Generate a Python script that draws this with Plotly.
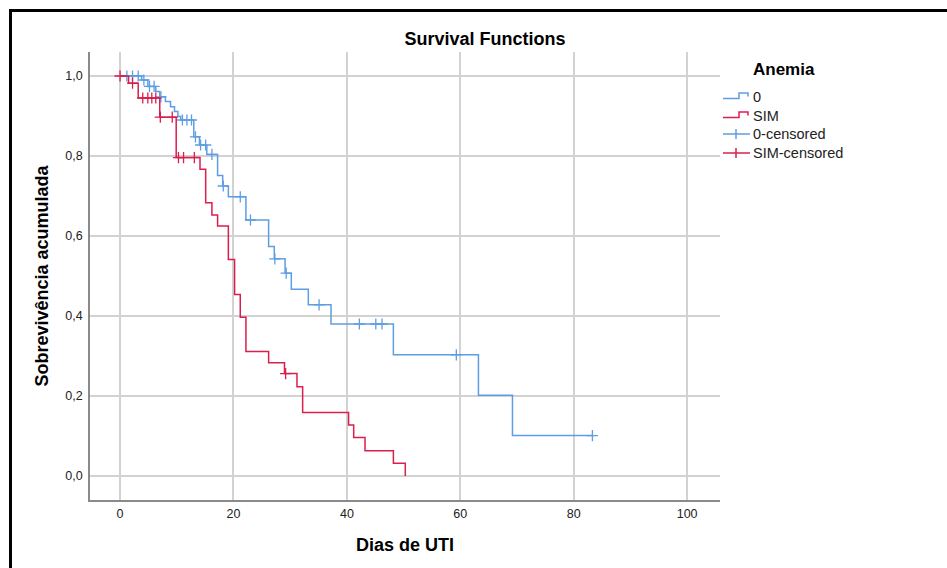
import numpy as np
import plotly.graph_objects as go

# ---------------- data ----------------
# Anemia = 0
blue_event_t = [0, 3.8, 4.9, 6.3, 7.0, 8.0, 8.9, 9.6, 10.2, 10.7, 13.0, 14.0, 15.3, 17.2, 18.1,
                19.1, 22.2, 26.2, 27.2, 29.1, 30.2, 33.2, 37.2, 48.2, 63.2, 69.2]
blue_event_s = [1.0, 0.99, 0.974, 0.961, 0.948, 0.936, 0.923, 0.911, 0.899, 0.89, 0.848, 0.8275, 0.804, 0.751, 0.725,
                0.698, 0.64, 0.574, 0.543, 0.507, 0.467, 0.428, 0.38, 0.303, 0.202, 0.101]
blue_cens_t = [1.2, 2.2, 3.2, 4.2, 5.2, 6.0, 7.2, 11.0, 11.8, 12.6, 13.3, 14.2, 15.1, 16.2, 18.2,
               21.2, 23.0, 27.3, 29.3, 35.1, 42.2, 45.1, 46.2, 59.3, 83.3]

# Anemia = SIM
red_event_t = [0, 1.5, 3.2, 7.0, 9.9, 14.1, 15.1, 16.2, 17.2, 19.1, 20.2, 21.2, 22.2, 26.2, 29.0,
               31.2, 32.2, 40.3, 41.2, 43.2, 48.2, 50.3]
red_event_s = [1.0, 0.982, 0.945, 0.897, 0.796, 0.767, 0.683, 0.6525, 0.625, 0.541, 0.454, 0.397, 0.311, 0.283, 0.256,
               0.223, 0.159, 0.1275, 0.096, 0.063, 0.032, 0.0]
red_cens_t = [0, 2.2, 4.0, 4.9, 5.6, 6.3, 7.1, 9.2, 10.3, 11.2, 13.1, 29.2]

x_ticks = [0, 20, 40, 60, 80, 100]
y_ticks = [0.0, 0.2, 0.4, 0.6, 0.8, 1.0]
y_tick_labels = ["0,0", "0,2", "0,4", "0,6", "0,8", "1,0"]
legend_title = "Anemia"
legend_labels = ["0", "SIM", "0-censored", "SIM-censored"]

BLUE = "#5F9DE3"
RED = "#DA1F4C"
FONT = "Liberation Sans, Arial"


def surv_at(times, ev_t, ev_s):
    ev_t = np.asarray(ev_t)
    ev_s = np.asarray(ev_s)
    idx = np.searchsorted(ev_t, np.asarray(times), side="right") - 1
    return ev_s[idx]


blue_line_t = blue_event_t + [blue_cens_t[-1]]
blue_line_s = blue_event_s + [blue_event_s[-1]]
red_line_t = red_event_t
red_line_s = red_event_s

fig = go.Figure()
fig.add_trace(go.Scatter(x=blue_line_t, y=blue_line_s, mode="lines", line=dict(color=BLUE, width=1.5, shape="hv"),
                         showlegend=False, name=legend_labels[0]))
fig.add_trace(go.Scatter(x=blue_cens_t, y=surv_at(blue_cens_t, blue_event_t, blue_event_s), mode="markers",
                         marker=dict(symbol="cross-thin", size=8, line=dict(color=BLUE, width=1.3)),
                         showlegend=False, name=legend_labels[2]))
fig.add_trace(go.Scatter(x=red_line_t, y=red_line_s, mode="lines", line=dict(color=RED, width=1.5, shape="hv"),
                         showlegend=False, name=legend_labels[1]))
fig.add_trace(go.Scatter(x=red_cens_t, y=surv_at(red_cens_t, red_event_t, red_event_s), mode="markers",
                         marker=dict(symbol="cross-thin", size=8, line=dict(color=RED, width=1.3)),
                         showlegend=False, name=legend_labels[3]))

# plot area in pixels: x 90..720, y 52..500
L, R, T, B = 90, 720, 52, 500
W, H = 947, 568


def px(xp):
    return (xp - L) / (R - L)


def py(yp):
    return (B - yp) / (B - T)


shapes = []
annotations = []
# outer black frame (left and top edges)
shapes.append(dict(type="line", xref="paper", yref="paper", x0=px(10.5), x1=px(960), y0=py(10.5), y1=py(10.5),
                   line=dict(color="black", width=3)))
shapes.append(dict(type="line", xref="paper", yref="paper", x0=px(10.5), x1=px(10.5), y0=py(9), y1=py(600),
                   line=dict(color="black", width=3)))

# custom legend
annotations.append(dict(xref="paper", yref="paper", x=px(751), y=py(70), text="<b>" + legend_title + "</b>",
                        showarrow=False, xanchor="left", yanchor="middle",
                        font=dict(family=FONT, size=17, color="black")))
rows = [97, 116, 134, 153]
cols = [BLUE, RED, BLUE, RED]
for i, (lab, yy, c) in enumerate(zip(legend_labels, rows, cols)):
    annotations.append(dict(xref="paper", yref="paper", x=px(751), y=py(yy), text=lab, showarrow=False,
                            xanchor="left", yanchor="middle",
                            font=dict(family=FONT, size=14.5, color="#222")))
    if i < 2:
        path = "M {},{} L {},{} L {},{} L {},{} L {},{}".format(
            px(723), py(yy + 1.5), px(739), py(yy + 1.5), px(739), py(yy - 4), px(748), py(yy - 4), px(748), py(yy - 0.5))
        shapes.append(dict(type="path", xref="paper", yref="paper", path=path, line=dict(color=c, width=1.5)))
    else:
        shapes.append(dict(type="line", xref="paper", yref="paper", x0=px(723), x1=px(750), y0=py(yy), y1=py(yy),
                           line=dict(color=c, width=1.5)))
        shapes.append(dict(type="line", xref="paper", yref="paper", x0=px(736), x1=px(736), y0=py(yy - 5), y1=py(yy + 5),
                           line=dict(color=c, width=1.5)))

fig.update_layout(
    width=W, height=H,
    margin=dict(l=L, r=W - R, t=T, b=H - B, pad=0),
    paper_bgcolor="white", plot_bgcolor="white",
    font=dict(family=FONT, color="#222"),
    title=dict(text="<b>Survival Functions</b>", x=px(485), xref="paper", xanchor="center",
               y=1 - 39 / H, yanchor="middle", font=dict(size=18, color="black")),
    shapes=shapes, annotations=annotations,
    showlegend=False,
)
fig.update_xaxes(range=[-5.3, 105.8], tickvals=x_ticks, showgrid=True, gridcolor="#d2d2d2", gridwidth=1.5,
                 zeroline=False, showline=True, linecolor="#8a8a8a", linewidth=1.5, ticks="",
                 tickfont=dict(size=12.5, color="#222"), ticklabelstandoff=1,
                 title=dict(text="<b>Dias de UTI</b>", font=dict(size=18, color="black"), standoff=19))
fig.update_yaxes(range=[-0.06, 1.06], tickvals=y_ticks, ticktext=y_tick_labels, showgrid=True, gridcolor="#d2d2d2",
                 gridwidth=1.5, zeroline=False, showline=True, linecolor="#8a8a8a", linewidth=1.5, ticks="",
                 tickfont=dict(size=12.5, color="#222"), ticklabelstandoff=3,
                 title=dict(text="<b>Sobrevivência acumulada</b>", font=dict(size=18, color="black"), standoff=12))

fig.write_html("out.html")
